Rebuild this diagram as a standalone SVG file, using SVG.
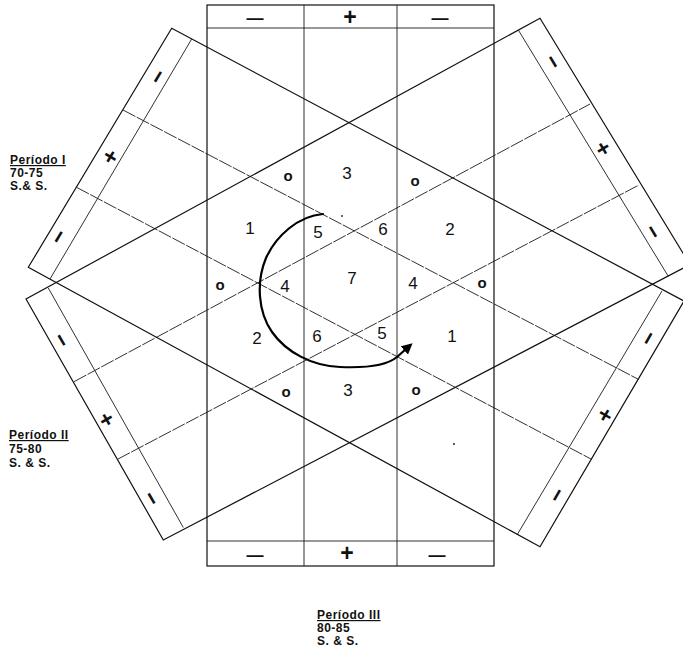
<svg xmlns="http://www.w3.org/2000/svg" width="683" height="652" viewBox="0 0 683 652">
<defs>
<style>
.ln{stroke:#1a1a1a;stroke-width:0.9;fill:none}
.dl{stroke:#1a1a1a;stroke-width:0.9;fill:none;stroke-dasharray:14 1.5}
.bd{stroke:#111;stroke-width:1.2;fill:none}
.num{font-family:"Liberation Sans",Arial,sans-serif;font-size:17px;fill:#111;text-anchor:middle;dominant-baseline:central}
.zero{font-family:"Liberation Sans",Arial,sans-serif;font-size:15px;font-weight:bold;fill:#111;text-anchor:middle;dominant-baseline:central}
.dash{font-family:"Liberation Sans",Arial,sans-serif;font-size:17px;font-weight:bold;fill:#111;text-anchor:middle;dominant-baseline:central}
.sym{font-family:"Liberation Sans",Arial,sans-serif;font-size:23px;font-weight:bold;fill:#111;text-anchor:middle;dominant-baseline:central}
.lbl{font-family:"Liberation Sans",Arial,sans-serif;font-size:12px;font-weight:bold;fill:#111;letter-spacing:0.5px}
.curve{stroke:#000;stroke-width:2.2;fill:none;stroke-linecap:round}
</style>
<marker id="arr" viewBox="0 0 10 10" refX="2" refY="5" markerWidth="5" markerHeight="5" orient="auto" markerUnits="strokeWidth">
<path d="M0,0 L10,5 L0,10 z" fill="#000"/>
</marker>
</defs>
<rect width="683" height="652" fill="#fff"/>

<g id="rect-vertical">
<rect class="bd" x="207" y="5" width="287" height="561"/>
<line class="ln" x1="207" y1="28" x2="494" y2="28"/>
<line class="ln" x1="207" y1="541" x2="494" y2="541"/>
<line class="ln" x1="304" y1="5" x2="304" y2="566"/>
<line class="ln" x1="397" y1="5" x2="397" y2="566"/>
<text class="dash" x="255" y="18">—</text>
<text class="sym" x="350" y="17">+</text>
<text class="dash" x="440" y="18">—</text>
<text class="dash" x="255" y="555">—</text>
<text class="sym" x="347" y="553">+</text>
<text class="dash" x="437" y="555">—</text>
</g>

<g id="rect-a">
<polygon class="bd" points="171.7,28.3 28.3,267.3 540,546.7 684,301"/>
<line class="ln" x1="191.7" y1="39" x2="50" y2="279"/>
<line class="ln" x1="662" y1="291" x2="517" y2="535"/>
<line class="dl" x1="123" y1="110" x2="638.3" y2="379.3"/>
<line class="dl" x1="76.5" y1="187.3" x2="591.5" y2="459.3"/>
<text class="sym" x="157.7" y="76.7" transform="rotate(-59 157.7 76.7)">−</text>
<text class="sym" x="110" y="156.7" transform="rotate(-59 110 156.7)">+</text>
<text class="sym" x="58.3" y="236.7" transform="rotate(-59 58.3 236.7)">−</text>
<text class="sym" x="648.3" y="338.3" transform="rotate(-60 648.3 338.3)">−</text>
<text class="sym" x="605" y="415" transform="rotate(-60 605 415)">+</text>
<text class="sym" x="556.7" y="495" transform="rotate(-60 556.7 495)">−</text>
</g>

<g id="rect-b">
<polygon class="bd" points="26,299 163.3,540 690,264.6 540,18.3"/>
<line class="ln" x1="48.3" y1="288" x2="183.3" y2="527.5"/>
<line class="ln" x1="518.3" y1="30" x2="668.3" y2="276.3"/>
<line class="dl" x1="74" y1="381.7" x2="590" y2="104"/>
<line class="dl" x1="117.5" y1="459.3" x2="639" y2="185"/>
<text class="sym" x="553.3" y="61.7" transform="rotate(59 553.3 61.7)">−</text>
<text class="sym" x="603.3" y="148.3" transform="rotate(59 603.3 148.3)">+</text>
<text class="sym" x="653.3" y="231.7" transform="rotate(59 653.3 231.7)">−</text>
<text class="sym" x="61.7" y="340" transform="rotate(60 61.7 340)">−</text>
<text class="sym" x="106.7" y="419.3" transform="rotate(60 106.7 419.3)">+</text>
<text class="sym" x="151.7" y="498.3" transform="rotate(60 151.7 498.3)">−</text>
</g>

<g id="cells">
<text class="zero" x="288" y="175">o</text>
<text class="num" x="347" y="173">3</text>
<text class="zero" x="415" y="180">o</text>
<text class="num" x="250" y="228">1</text>
<text class="num" x="318" y="232">5</text>
<text class="num" x="383" y="229">6</text>
<text class="num" x="450" y="229">2</text>
<text class="zero" x="220" y="284">o</text>
<text class="num" x="285" y="286">4</text>
<text class="num" x="352" y="278">7</text>
<text class="num" x="413" y="283">4</text>
<text class="zero" x="482" y="282">o</text>
<text class="num" x="257" y="338">2</text>
<text class="num" x="317" y="336">6</text>
<text class="num" x="382" y="333">5</text>
<text class="num" x="452" y="336">1</text>
<text class="zero" x="286" y="391">o</text>
<text class="num" x="348" y="390">3</text>
<text class="zero" x="416" y="389">o</text>
<circle cx="342" cy="216" r="0.9" fill="#222"/>
<circle cx="454" cy="444" r="1" fill="#222"/>
</g>

<g id="connectors">
<path class="curve" marker-end="url(#arr)" d="M323,214 C298,216 276,236 266,258 C256,282 258,312 272,332 C286,352 312,366 340,367 C362,368 386,366 397,357 L406,349"/>
</g>

<g id="labels">
<text class="lbl" x="10" y="164" text-decoration="underline">Período I</text>
<text class="lbl" x="10" y="177">70-75</text>
<text class="lbl" x="10" y="190">S.&amp; S.</text>
<text class="lbl" x="9" y="439" text-decoration="underline">Período II</text>
<text class="lbl" x="9" y="453">75-80</text>
<text class="lbl" x="9" y="467">S. &amp; S.</text>
<text class="lbl" x="317" y="619" text-decoration="underline">Período III</text>
<text class="lbl" x="317" y="632">80-85</text>
<text class="lbl" x="317" y="645">S. &amp; S.</text>
</g>
</svg>
